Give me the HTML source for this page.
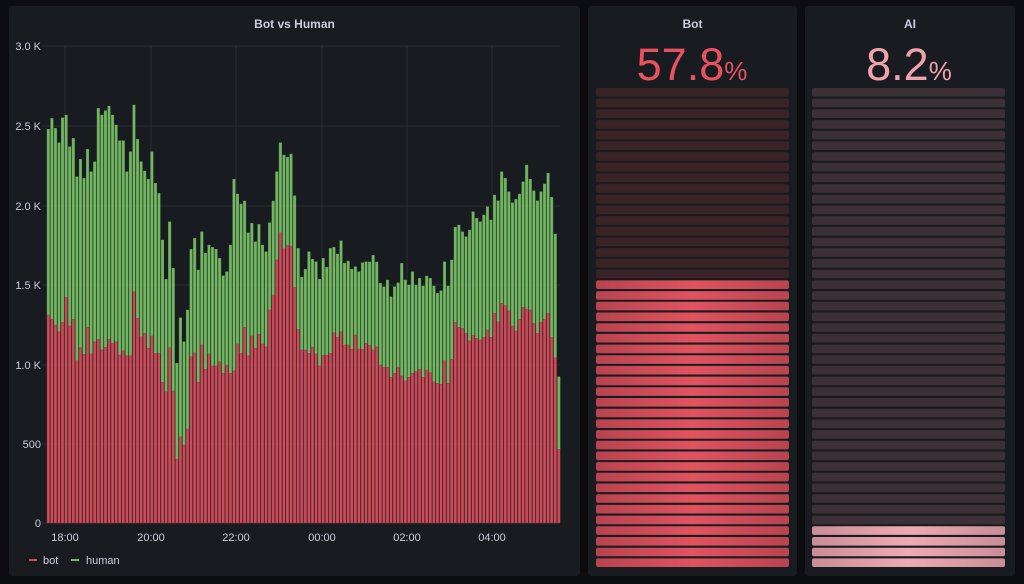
<!DOCTYPE html>
<html><head><meta charset="utf-8"><style>
body{margin:0;width:1024px;height:584px;background:#0c0d10;font-family:"Liberation Sans",sans-serif;overflow:hidden;position:relative}
.p{position:absolute;background:#181b1f;border-radius:3px}
.t{position:absolute;left:0;right:0;text-align:center;color:#ccccdc;font-size:12px;font-weight:bold;top:11px}
</style></head><body>
<div class="p" style="left:9px;top:6px;width:571px;height:570px"><div class="t">Bot vs Human</div></div>
<div class="p" style="left:588px;top:6px;width:209px;height:570px"><div class="t">Bot</div></div>
<div class="p" style="left:805px;top:6px;width:210px;height:570px"><div class="t">AI</div></div>
<svg id="s" width="1024" height="584" style="position:absolute;left:0;top:0" font-family="Liberation Sans, sans-serif"></svg>
<script>
var s=document.getElementById('s'),h='';
var gy=[46,126,206,285,365,444,523],gl=['3.0 K','2.5 K','2.0 K','1.5 K','1.0 K','500','0'];
for(var i=0;i<7;i++){h+='<line x1="42" x2="560" y1="'+gy[i]+'" y2="'+gy[i]+'" stroke="#2c2e33"/>';h+='<text x="41" y="'+(gy[i]+4)+'" text-anchor="end" font-size="11" fill="#ccccdc">'+gl[i]+'</text>';}
var gx=[65,151,236,322,407,492],xl=['18:00','20:00','22:00','00:00','02:00','04:00'];
for(i=0;i<6;i++){h+='<line y1="46" y2="523" x1="'+gx[i]+'" x2="'+gx[i]+'" stroke="#2c2e33"/>';h+='<text x="'+gx[i]+'" y="541" text-anchor="middle" font-size="11" fill="#ccccdc">'+xl[i]+'</text>';}
var T1=[118,85,115,158,83,75,170,145,260,208,265,178,245,215,55,75,62,48,75,105,152,152,245,185,45,148,215,243,268,185,280,310,450,568,395,535,820,683,755,660,478,445,540],
B1=[675,688,705,725,697,622,708,688,812,773,793,712,792,755,748,780,772,748,760,755,795,782,797,797,605,685,740,730,775,738,790,790,877,905,773,903,1108,1040,1065,1017,800,788,877],
T2=[305,370,345,352,358,385,437,425,345,148,192,222,213,308,280,335,283,345,365,278,213,125,38,75,82,72,197,355,442,418,365,388,395,448,385,412,355,352,372,332,400,393,418,410,425,398,395,396,376,396],
B2=[645,718,672,708,708,695,730,705,730,722,642,670,592,677,618,655,613,642,650,540,495,390,308,356,346,348,472,598,660,660,670,652,672,708,676,676,670,608,622,605,645,645,658,615,657,658,640,646,660,650],
T3=[400,410,390,440,410,398,340,390,405,365,405,385,408,378,385,408,430,422,335,408,330,232,225,245,260,240,185,205,215,195,170,210,135,152,65,85,125,158,148,132,95,45,88,122,152,125,102,70,142,252,680],
B3=[645,652,652,682,670,652,678,692,682,670,665,658,682,660,668,695,700,703,632,700,628,517,532,535,550,572,556,565,570,562,540,562,490,515,460,467,482,528,543,508,472,477,480,520,550,517,508,490,562,623,898];
var T=[],B=[];
T1.forEach(function(v,k){T.push(90+v/3);B.push(90+B1[k]/3)});
T2.forEach(function(v,k){T.push(130+v/3);B.push(130+B2[k]/3)});
T3.forEach(function(v,k){T.push(150+v/3);B.push(150+B3[k]/3)});
for(i=0;i<T.length;i++){var x=47+i*3.57;
h+='<rect x="'+x.toFixed(2)+'" y="'+T[i].toFixed(1)+'" width="2.6" height="'+(B[i]-T[i]).toFixed(1)+'" fill="#73b762" stroke="#5e9a52" stroke-width="0.4"/>';
h+='<rect x="'+x.toFixed(2)+'" y="'+B[i].toFixed(1)+'" width="2.6" height="'+(523-B[i]).toFixed(1)+'" fill="#cc4c59" stroke="#a03b46" stroke-width="0.4"/>';}
h+='<line x1="29" x2="37" y1="560" y2="560" stroke="#d24f5c" stroke-width="2"/><text x="43" y="564" font-size="11" fill="#ccccdc">bot</text>';
h+='<line x1="71" x2="79" y1="560" y2="560" stroke="#73b762" stroke-width="2"/><text x="86" y="564" font-size="11" fill="#ccccdc">human</text>';
h+='<defs><linearGradient id="gr"><stop offset="0" stop-color="#b8434f"/><stop offset="0.5" stop-color="#e0535f"/><stop offset="1" stop-color="#b8434f"/></linearGradient><linearGradient id="gp"><stop offset="0" stop-color="#c88d97"/><stop offset="0.5" stop-color="#eeaab4"/><stop offset="1" stop-color="#c88d97"/></linearGradient></defs>';
for(i=0;i<45;i++){var y=88+i*10.69,idx=44-i;
h+='<rect x="596" y="'+y.toFixed(1)+'" width="193" height="8.6" rx="2" fill="'+(idx<27?'url(#gr)':'#3a2327')+'"/>';
h+='<rect x="812" y="'+y.toFixed(1)+'" width="193" height="8.6" rx="2" fill="'+(idx<4?'url(#gp)':'#3a3035')+'"/>';}
h+='<text x="692" y="80" text-anchor="middle" fill="#e8525f"><tspan font-size="45">57.8</tspan><tspan font-size="26">%</tspan></text>';
h+='<text x="909" y="80" text-anchor="middle" fill="#f0a2ac"><tspan font-size="45">8.2</tspan><tspan font-size="26">%</tspan></text>';
s.innerHTML=h;
</script>
</body></html>
